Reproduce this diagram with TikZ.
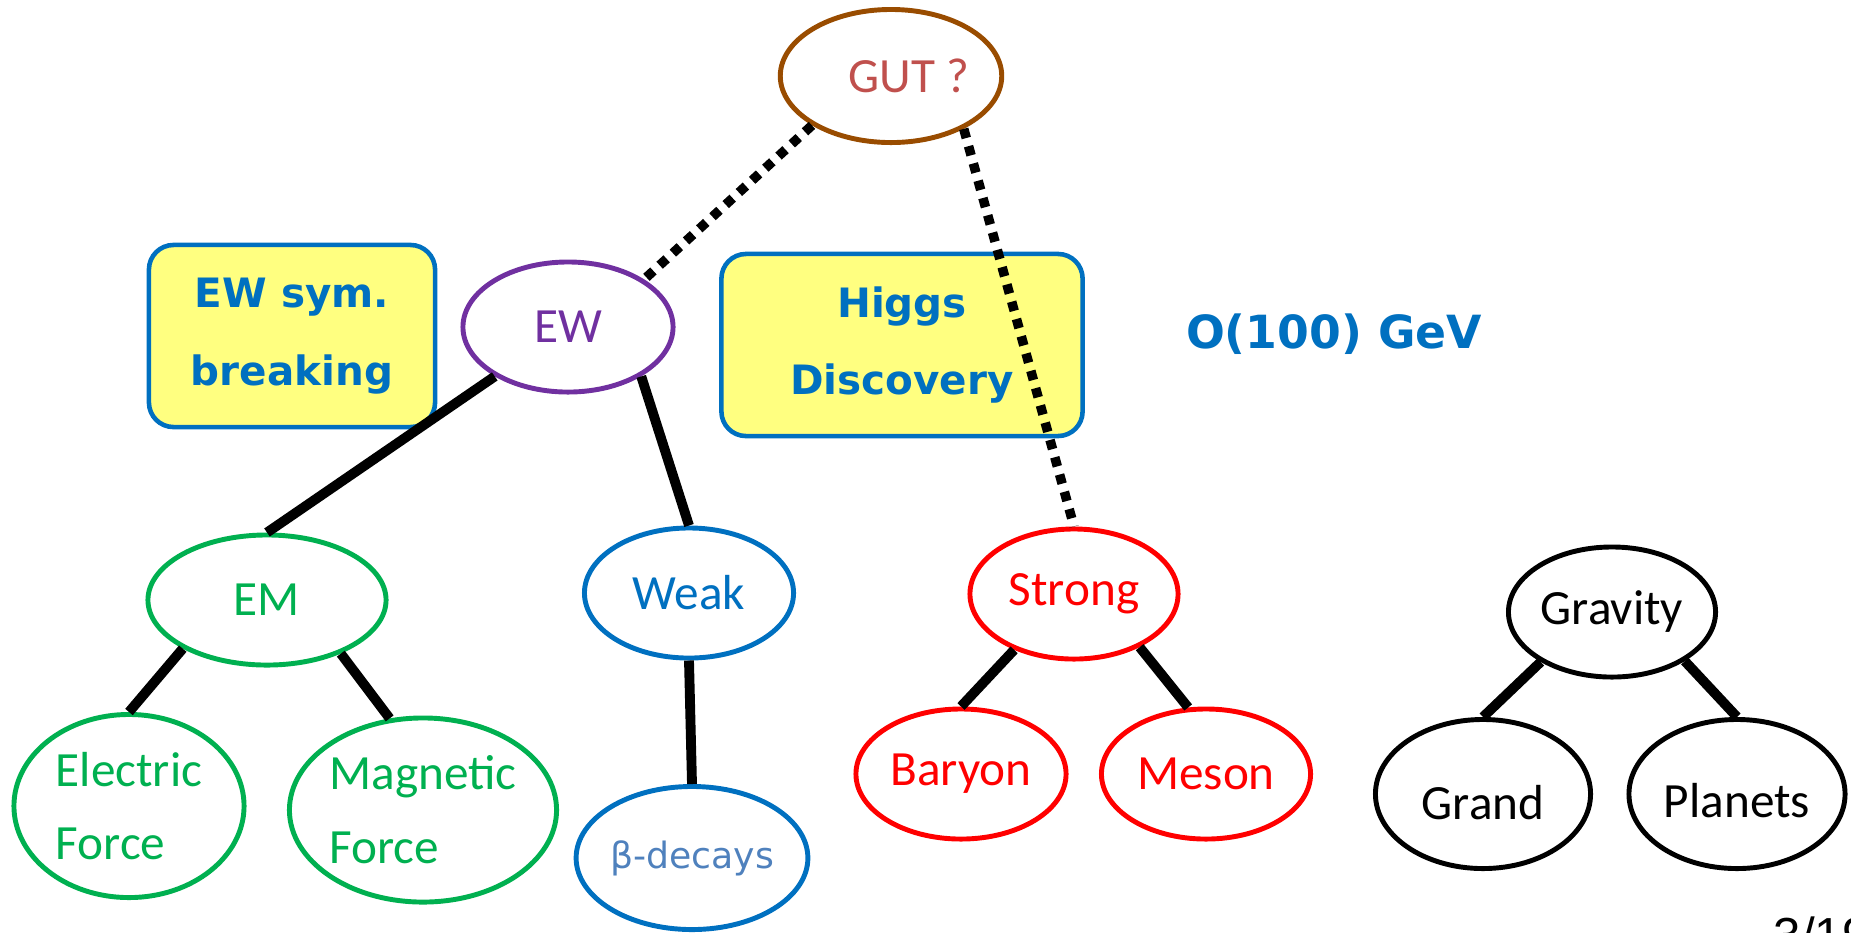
\documentclass[tikz,border=0pt]{standalone}
\usepackage{fontspec}
\setmainfont{Carlito}
\newfontfamily\headfont{DejaVu Sans}
\newfontfamily\decayfont{DejaVu Sans}
\newfontfamily\pagefont{Liberation Sans}
\usetikzlibrary{shapes.geometric}
\definecolor{gutbrown}{RGB}{153,76,0}
\definecolor{gutred}{RGB}{192,80,77}
\definecolor{ewpurple}{RGB}{112,48,160}
\definecolor{emgreen}{RGB}{0,176,80}
\definecolor{weakblue}{RGB}{0,112,192}
\definecolor{decayblue}{RGB}{79,129,189}
\definecolor{noteyellow}{RGB}{255,255,128}
\tikzset{
  force/.style={ellipse, draw=#1, text=#1, line width=1.4pt, inner sep=0pt,
    align=center, font=\fontsize{14}{21}\selectfont},
  note/.style={draw=weakblue, fill=noteyellow, text=weakblue, line width=1.3pt,
    rounded corners=7pt, inner sep=0pt, align=center,
    font=\headfont\bfseries\fontsize{11.5}{22}\selectfont},
  link/.style={line width=2.8pt},
  guess/.style={line width=2.7pt, dash pattern=on 2.7pt off 2.4pt}
}

\begin{document}
\begin{tikzpicture}[x=0.01cm, y=-0.01cm]
\clip (0,0) rectangle (1851,932);

% boxes
\node[note, minimum width=2.86cm, minimum height=1.82cm] (EWsym) at (292,336) {EW sym.\\breaking};
\node[note, minimum width=3.61cm, minimum height=1.82cm] (Higgs) at (902,345) {Higgs\\Discovery};
\node[text=weakblue, font=\headfont\bfseries\fontsize{13}{16}\selectfont] (scale) at (1334,334) {O(100) GeV};

% forces
\node[force=gutbrown, text=gutred, minimum width=2.10cm, minimum height=1.33cm] (GUT) at (891,76) {\hspace*{0.36cm}GUT ?};
\node[force=ewpurple, minimum width=2.10cm, minimum height=1.30cm] (EW) at (568,327) {EW};
\node[force=emgreen, minimum width=2.38cm, minimum height=1.30cm] (EM) at (267,600) {EM};
\node[force=weakblue, minimum width=2.09cm, minimum height=1.30cm] (Weak) at (689,593) {Weak};
\node[force=red, minimum width=2.08cm, minimum height=1.30cm] (Strong) at (1074,594) {Strong};
\node[force=black, minimum width=2.07cm, minimum height=1.30cm] (Gravity) at (1612,612) {Gravity};

\node[force=emgreen, align=left, minimum width=2.30cm, minimum height=1.83cm] (Electric) at (129,806) {Electric\\Force};
\node[force=emgreen, align=left, minimum width=2.67cm, minimum height=1.84cm] (Magnetic) at (423,810) {Magnetic\\Force};
\node[force=weakblue, text=decayblue, font=\decayfont\fontsize{10.3}{12}\selectfont,
  minimum width=2.19cm, minimum height=1.43cm] (Beta) at (692,858) {β-decays};
\node[force=red, minimum width=2.10cm, minimum height=1.30cm] (Baryon) at (961,774) {Baryon};
\node[force=red, minimum width=2.09cm, minimum height=1.30cm] (Meson) at (1206,774) {Meson};
\node[force=black, minimum width=2.15cm, minimum height=1.49cm] (Grand) at (1483,794) {\raisebox{-0.09cm}[\height][\depth]{Grand}};
\node[force=black, minimum width=2.16cm, minimum height=1.49cm] (Planets) at (1737,794) {\raisebox{-0.07cm}[\height][\depth]{Planets}};

% links
\draw[guess] (GUT.212) -- (EW.32);
\draw[guess] (GUT.-36) -- (Strong.north);
\draw[link] (EW.214) -- (EM.north);
\draw[link] (EW.-34) -- (Weak.north);
\draw[link] (EM.210) -- (Electric.north);
\draw[link] (EM.-36) -- (Magnetic.110);
\draw[link] (Weak.south) -- (Beta.north);
\draw[link] (Strong.223) -- (Baryon.north);
\draw[link] (Strong.-39) -- (Meson.105);
\draw[link] (Gravity.215) -- (Grand.north);
\draw[link] (Gravity.-34) -- (Planets.north);

\node[anchor=base west, inner sep=0pt, font=\pagefont\fontsize{14}{16}\selectfont] (page) at (1773,952) {3/19};
\end{tikzpicture}
\end{document}
